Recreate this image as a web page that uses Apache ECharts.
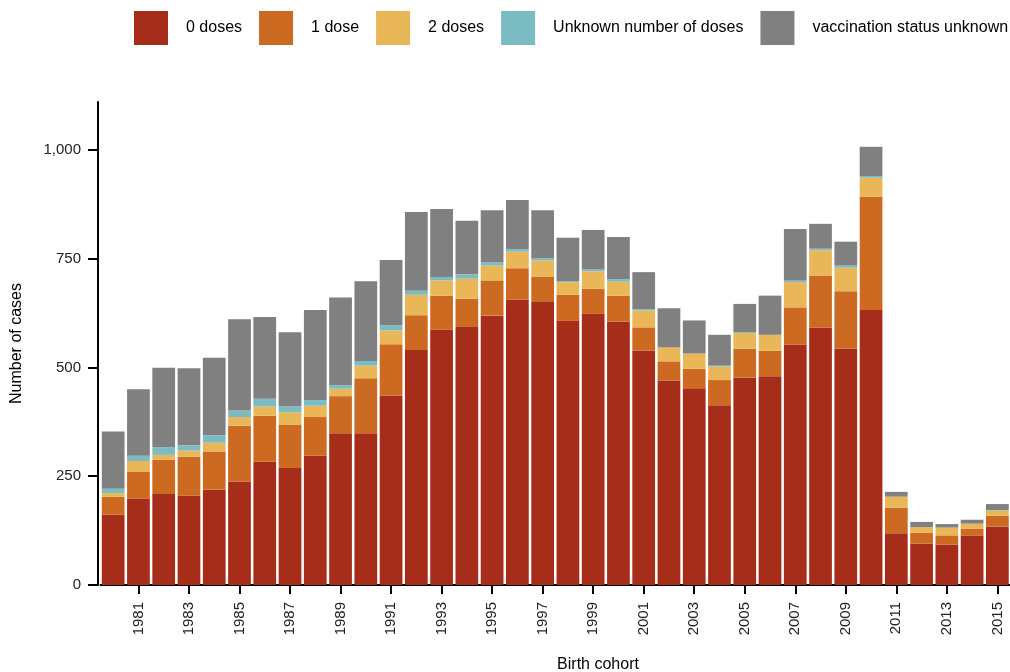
<!DOCTYPE html>
<html>
<head>
<meta charset="utf-8">
<script src="https://cdn.jsdelivr.net/npm/echarts@6/dist/echarts.min.js"></script>
<style>
  html, body { margin: 0; padding: 0; background: #ffffff; }
  #chart { width: 1010px; height: 672px; }
</style>
</head>
<body>
<div id="chart"></div>
<script>
// Birth cohorts
const years = ['1980','1981','1982','1983','1984','1985','1986','1987','1988','1989',
               '1990','1991','1992','1993','1994','1995','1996','1997','1998','1999',
               '2000','2001','2002','2003','2004','2005','2006','2007','2008','2009',
               '2010','2011','2012','2013','2014','2015'];

// Number of cases by vaccination status
const zeroDoses = [162,198,209,205,219,238,283,269,297,349,
                   349,435,540,587,593,619,656,652,607,623,
                   605,539,470,452,413,477,480,552,592,543,
                   632,119,95,93,113,134];
const oneDose   = [41,63,79,90,88,128,106,100,89,85,
                   126,118,80,78,65,81,72,57,60,58,
                   60,53,44,45,58,66,58,86,119,132,
                   260,59,25,21,16,25];
const twoDoses  = [8,24,11,14,20,20,21,28,26,17,
                   29,32,47,35,46,34,38,37,29,40,
                   32,39,32,35,31,36,37,58,58,54,
                   44,25,13,18,12,12];
const unknownDoses = [10,12,18,12,17,15,18,13,13,8,
                      11,12,9,8,10,7,6,5,2,4,
                      6,3,0,0,2,2,0,4,4,5,
                      4,0,0,0,0,1];
const statusUnknown = [132,153,182,177,178,210,188,171,207,202,
                       183,150,181,156,123,120,113,110,100,91,
                       97,85,90,76,71,65,90,118,57,55,
                       67,11,12,8,9,14];

const seriesNames = ['0 doses','1 dose','2 doses','Unknown number of doses','vaccination status unknown'];
const seriesValues = [zeroDoses, oneDose, twoDoses, unknownDoses, statusUnknown];
const seriesColors = ['#A62D19','#CC6A22','#E9B757','#7BBCC2','#808080'];

// Tick labels
const xTickYears = ['1981','1983','1985','1987','1989','1991','1993','1995','1997','1999',
                    '2001','2003','2005','2007','2009','2011','2013','2015'];
const yTickValues = [0,250,500,750,1000];

const FONT = '"Liberation Sans", Arial, sans-serif';

const chart = echarts.init(document.getElementById('chart'), null, { renderer: 'canvas' });

const series = seriesNames.map((name, i) => ({
  name: name,
  type: 'bar',
  stack: 'total',
  barWidth: '90%',
  itemStyle: { color: seriesColors[i] },
  emphasis: { disabled: true },
  data: seriesValues[i]
}));

const showTick = (idx, val) => xTickYears.indexOf(String(val)) >= 0;

chart.setOption({
  animation: false,
  backgroundColor: '#ffffff',
  textStyle: { fontFamily: FONT },
  title: {
    text: 'Birth cohort',
    left: 598,
    top: 657,
    textAlign: 'center',
    padding: 0,
    textStyle: { fontFamily: FONT, fontSize: 16, fontWeight: 'normal', color: '#000000' }
  },
  legend: {
    data: seriesNames,
    left: 134,
    top: 11,
    padding: 0,
    width: 1200,
    icon: 'rect',
    itemWidth: 34,
    itemHeight: 34,
    itemGap: 17,
    textStyle: { fontFamily: FONT, fontSize: 16, color: '#000000', padding: [0, 0, 0, 13] }
  },
  grid: { left: 100.55, top: 102, right: -8.55, bottom: 87, containLabel: false },
  xAxis: {
    type: 'category',
    data: years,
    boundaryGap: true,
    splitLine: { show: false },
    axisLine: { show: true, onZero: false, lineStyle: { color: '#000000', width: 2 } },
    axisTick: { show: true, length: 9, alignWithLabel: true, interval: showTick, lineStyle: { color: '#000000', width: 2 } },
    axisLabel: {
      interval: showTick,
      rotate: 90,
      margin: 17,
      fontFamily: FONT,
      fontSize: 15,
      color: '#222222'
    }
  },
  yAxis: {
    type: 'value',
    min: 0,
    max: 1110,
    offset: 2.55,
    name: 'Number of cases',
    nameLocation: 'middle',
    nameGap: 73,
    nameTextStyle: { fontFamily: FONT, fontSize: 16, color: '#000000' },
    splitLine: { show: false },
    axisLine: { show: true, lineStyle: { color: '#000000', width: 2 } },
    axisTick: { show: true, length: 10, customValues: yTickValues, lineStyle: { color: '#000000', width: 2 } },
    axisLabel: {
      customValues: yTickValues,
      margin: 17,
      fontFamily: FONT,
      fontSize: 15,
      color: '#222222',
      formatter: v => v.toLocaleString('en-US')
    }
  },
  series: series
});
</script>
</body>
</html>
